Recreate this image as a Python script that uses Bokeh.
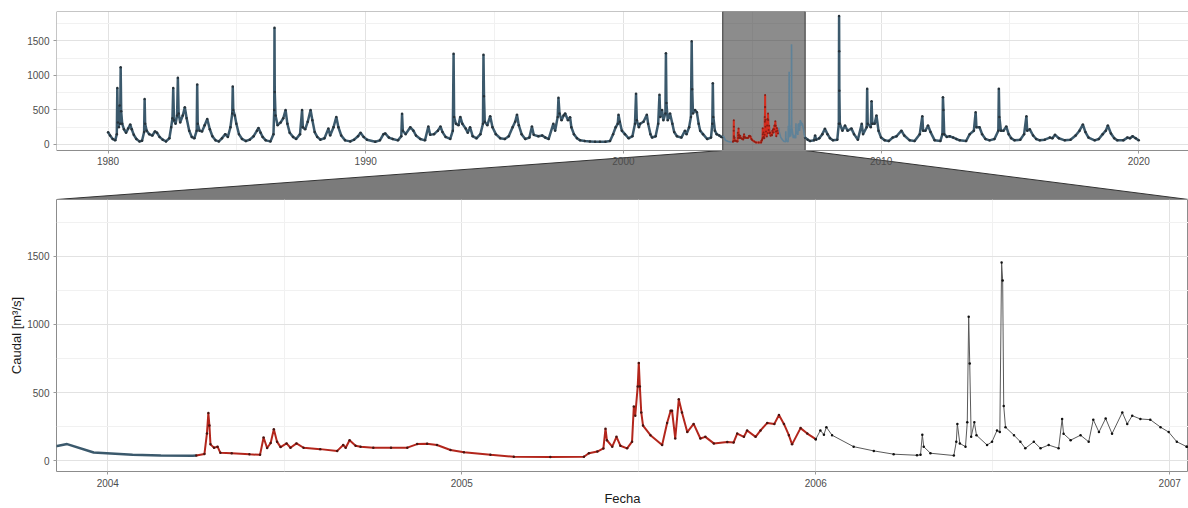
from bokeh.plotting import figure
from bokeh.models import Range1d, FixedTicker, ColumnDataSource
from bokeh.layouts import column
from bokeh.embed import file_html
from bokeh.resources import INLINE

# ---------------- data: (fecha [decimal year], caudal [m3/s]) ----------------
serie_1980s = [
    (1980.00, 178), (1980.08, 130), (1980.18, 80), (1980.28, 60), (1980.34, 150), (1980.36, 820),
    (1980.38, 320), (1980.42, 250), (1980.45, 565), (1980.47, 300), (1980.49, 1120), (1980.51, 480),
    (1980.55, 300), (1980.62, 220), (1980.70, 170), (1980.78, 230), (1980.86, 290), (1980.92, 220),
    (1981.00, 140), (1981.10, 80), (1981.22, 45), (1981.32, 55), (1981.40, 180), (1981.42, 660),
    (1981.44, 300), (1981.50, 200), (1981.60, 150), (1981.72, 130), (1981.82, 190), (1981.90, 170),
    (1982.00, 110), (1982.12, 70), (1982.25, 45), (1982.38, 90), (1982.45, 250), (1982.50, 380),
    (1982.53, 817), (1982.56, 350), (1982.62, 300), (1982.68, 420), (1982.71, 966), (1982.74, 450),
    (1982.80, 320), (1982.90, 420), (1982.98, 540), (1983.05, 380), (1983.15, 200), (1983.25, 110),
    (1983.35, 90), (1983.44, 200), (1983.46, 870), (1983.48, 300), (1983.55, 200), (1983.65, 190),
    (1983.75, 280), (1983.85, 370), (1983.95, 220), (1984.05, 120), (1984.17, 60), (1984.30, 45),
    (1984.42, 90), (1984.55, 150), (1984.65, 110), (1984.75, 250), (1984.82, 450), (1984.84, 840),
    (1984.86, 500), (1984.92, 420), (1984.98, 300), (1985.08, 150), (1985.20, 80), (1985.35, 50),
    (1985.50, 70), (1985.65, 120), (1985.78, 200), (1985.84, 240), (1985.92, 170), (1986.00, 110),
    (1986.12, 60), (1986.30, 45), (1986.42, 150), (1986.45, 500), (1986.46, 1690), (1986.47, 760),
    (1986.50, 420), (1986.58, 280), (1986.70, 320), (1986.80, 380), (1986.89, 500), (1986.96, 300),
    (1987.05, 170), (1987.18, 110), (1987.30, 80), (1987.45, 150), (1987.53, 500), (1987.56, 250),
    (1987.65, 220), (1987.75, 330), (1987.86, 500), (1987.93, 350), (1988.02, 180), (1988.12, 110),
    (1988.24, 70), (1988.40, 90), (1988.55, 230), (1988.62, 130), (1988.75, 250), (1988.86, 400),
    (1988.94, 250), (1989.05, 130), (1989.20, 60), (1989.40, 45), (1989.55, 70), (1989.70, 120),
    (1989.80, 170), (1989.92, 110),
]
serie_1990s = [
    (1990.05, 70), (1990.37, 40), (1990.55, 60), (1990.69, 150), (1990.76, 160), (1990.90, 100),
    (1991.05, 80), (1991.25, 60), (1991.38, 120), (1991.41, 445), (1991.44, 200), (1991.55, 150),
    (1991.73, 250), (1991.85, 200), (1991.95, 130), (1992.12, 80), (1992.30, 60), (1992.43, 260),
    (1992.50, 140), (1992.65, 150), (1992.80, 200), (1992.90, 260), (1992.98, 180), (1993.10, 110),
    (1993.28, 80), (1993.38, 200), (1993.41, 1314), (1993.43, 400), (1993.50, 300), (1993.60, 280),
    (1993.67, 400), (1993.75, 300), (1993.88, 230), (1993.96, 170), (1994.05, 250), (1994.15, 120),
    (1994.30, 90), (1994.45, 150), (1994.55, 300), (1994.57, 1300), (1994.59, 700), (1994.62, 330),
    (1994.72, 280), (1994.83, 410), (1994.92, 250), (1995.05, 150), (1995.22, 90), (1995.40, 80),
    (1995.55, 120), (1995.70, 250), (1995.80, 330), (1995.87, 430), (1995.94, 280), (1996.05, 150),
    (1996.19, 80), (1996.35, 100), (1996.45, 260), (1996.52, 140), (1996.70, 120), (1996.85, 130),
    (1996.97, 100), (1997.10, 80), (1997.28, 300), (1997.35, 200), (1997.45, 400), (1997.48, 677),
    (1997.52, 450), (1997.60, 350), (1997.68, 420), (1997.74, 450), (1997.85, 350), (1997.93, 396),
    (1997.98, 250), (1998.08, 150), (1998.20, 90), (1998.32, 60), (1998.50, 50), (1998.70, 45),
    (1998.90, 40), (1999.09, 40), (1999.30, 40), (1999.48, 50), (1999.60, 150), (1999.70, 250),
    (1999.78, 300), (1999.81, 430), (1999.86, 330), (1999.94, 200),
]
serie_2000_2003 = [
    (2000.06, 150), (2000.20, 90), (2000.35, 120), (2000.45, 300), (2000.49, 735), (2000.52, 350),
    (2000.60, 250), (2000.65, 300), (2000.78, 330), (2000.91, 430), (2000.96, 300), (2001.05, 150),
    (2001.11, 100), (2001.25, 120), (2001.35, 300), (2001.40, 720), (2001.43, 400), (2001.50, 500),
    (2001.55, 350), (2001.63, 450), (2001.65, 1323), (2001.67, 600), (2001.72, 350), (2001.81, 450),
    (2001.90, 300), (2001.97, 180), (2002.08, 120), (2002.25, 100), (2002.39, 200), (2002.45, 150),
    (2002.55, 250), (2002.62, 400), (2002.65, 1497), (2002.67, 800), (2002.70, 450), (2002.78, 500),
    (2002.85, 468), (2002.92, 300), (2002.98, 200), (2003.09, 150), (2003.25, 80), (2003.40, 100),
    (2003.45, 300), (2003.47, 888), (2003.49, 400), (2003.55, 200), (2003.62, 150), (2003.72, 130),
    (2003.80, 110), (2003.857, 108),
]
tramo_azul = [
    (2003.857, 108), (2003.885, 122), (2003.96, 60), (2004.07, 43), (2004.15, 38), (2004.24, 36),
    (2004.25, 38),
]
tramo_rojo = [
    (2004.25, 38), (2004.273, 50), (2004.28, 200), (2004.284, 350), (2004.287, 258), (2004.29, 120),
    (2004.30, 95), (2004.31, 103), (2004.318, 58), (2004.35, 55), (2004.40, 47), (2004.43, 43),
    (2004.44, 170), (2004.45, 93), (2004.46, 130), (2004.469, 230), (2004.478, 140), (2004.488, 100),
    (2004.505, 127), (2004.516, 95), (2004.533, 127), (2004.553, 95), (2004.60, 85), (2004.648, 72),
    (2004.665, 115), (2004.672, 95), (2004.683, 150), (2004.70, 110), (2004.714, 103), (2004.75, 96),
    (2004.80, 95), (2004.846, 96), (2004.874, 122), (2004.902, 125), (2004.93, 115), (2004.968, 79),
    (2005.006, 62), (2005.081, 43), (2005.147, 29), (2005.25, 28), (2005.345, 29), (2005.359, 55),
    (2005.383, 67), (2005.40, 90), (2005.406, 235), (2005.41, 150), (2005.425, 103), (2005.437, 175),
    (2005.448, 110), (2005.467, 91), (2005.481, 140), (2005.486, 397), (2005.49, 330), (2005.497, 545),
    (2005.50, 717), (2005.503, 545), (2005.507, 354), (2005.512, 258), (2005.533, 187), (2005.566, 115),
    (2005.58, 277), (2005.59, 366), (2005.594, 366), (2005.603, 163), (2005.613, 450), (2005.622, 354),
    (2005.637, 210), (2005.655, 270), (2005.674, 163), (2005.688, 175), (2005.712, 127), (2005.75, 138),
    (2005.768, 134), (2005.778, 199), (2005.797, 175), (2005.806, 222), (2005.83, 175), (2005.844, 222),
    (2005.863, 277), (2005.883, 270), (2005.896, 335), (2005.91, 270), (2005.924, 187), (2005.933, 120),
    (2005.957, 239), (2005.976, 199), (2006.0, 158),
]
tramo_gris = [
    (2006.0, 158), (2006.013, 222), (2006.023, 191), (2006.03, 246), (2006.046, 187), (2006.107, 103),
    (2006.164, 72), (2006.22, 48), (2006.286, 40), (2006.296, 43), (2006.301, 191), (2006.305, 103),
    (2006.324, 55), (2006.39, 38), (2006.397, 139), (2006.40, 270), (2006.407, 127), (2006.423, 103),
    (2006.428, 282), (2006.432, 1055), (2006.435, 712), (2006.439, 175), (2006.448, 282), (2006.454, 187),
    (2006.484, 115), (2006.498, 139), (2006.512, 222), (2006.52, 210), (2006.525, 1454), (2006.528, 1322),
    (2006.531, 402), (2006.536, 246), (2006.56, 187), (2006.578, 139), (2006.592, 91), (2006.616, 139),
    (2006.635, 91), (2006.658, 115), (2006.686, 91), (2006.696, 306), (2006.70, 198), (2006.72, 151),
    (2006.748, 187), (2006.771, 139), (2006.784, 301), (2006.80, 210), (2006.819, 310), (2006.837, 198),
    (2006.866, 354), (2006.88, 270), (2006.894, 330), (2006.917, 306), (2006.945, 301), (2006.974, 246),
    (2006.997, 210), (2007.02, 139), (2007.048, 103),
]
serie_2007_2020 = [
    (2007.048, 103), (2007.15, 70), (2007.24, 50), (2007.40, 60), (2007.44, 130), (2007.48, 70),
    (2007.60, 90), (2007.72, 150), (2007.82, 228), (2007.92, 150), (2008.02, 90), (2008.13, 60),
    (2008.30, 70), (2008.36, 300), (2008.37, 1860), (2008.375, 1350), (2008.38, 780), (2008.40, 300),
    (2008.50, 200), (2008.60, 275), (2008.70, 200), (2008.85, 230), (2008.95, 150), (2009.10, 70),
    (2009.25, 300), (2009.30, 150), (2009.44, 250), (2009.46, 807), (2009.48, 300), (2009.60, 250),
    (2009.63, 628), (2009.66, 300), (2009.75, 300), (2009.82, 420), (2009.90, 200), (2010.00, 100),
    (2010.14, 60), (2010.30, 50), (2010.45, 100), (2010.60, 120), (2010.79, 200), (2010.90, 130),
    (2011.11, 60), (2011.30, 50), (2011.50, 150), (2011.60, 410), (2011.63, 200), (2011.72, 200),
    (2011.82, 275), (2011.92, 180), (2012.08, 60), (2012.30, 50), (2012.38, 150), (2012.40, 686),
    (2012.42, 500), (2012.45, 150), (2012.55, 110), (2012.66, 120), (2012.80, 100), (2012.92, 80),
    (2013.05, 60), (2013.30, 50), (2013.44, 150), (2013.60, 200), (2013.67, 468), (2013.70, 250),
    (2013.82, 250), (2013.92, 150), (2014.05, 80), (2014.21, 60), (2014.40, 80), (2014.55, 200),
    (2014.57, 807), (2014.59, 400), (2014.65, 200), (2014.75, 200), (2014.86, 260), (2014.95, 150),
    (2015.05, 90), (2015.18, 60), (2015.40, 70), (2015.55, 150), (2015.64, 410), (2015.67, 200),
    (2015.77, 220), (2015.90, 130), (2016.02, 80), (2016.16, 60), (2016.35, 70), (2016.55, 100),
    (2016.65, 90), (2016.75, 140), (2016.90, 90), (2017.13, 60), (2017.35, 70), (2017.55, 130),
    (2017.70, 200), (2017.83, 290), (2017.93, 180), (2018.05, 100), (2018.29, 60), (2018.45, 80),
    (2018.60, 150), (2018.72, 200), (2018.80, 275), (2018.92, 160), (2019.05, 90), (2019.17, 60),
    (2019.40, 60), (2019.56, 100), (2019.66, 90), (2019.76, 120), (2019.88, 90), (2020.00, 60),
]

# zoom window (dates) and tick labels
zoom_inicio, zoom_fin = 2003.855, 2007.053
ticks_top_x = [1980, 1990, 2000, 2010, 2020]
minor_top_x = [1985, 1995, 2005, 2015]
ticks_bot_x = [2004, 2005, 2006, 2007]
minor_bot_x = [2004.5, 2005.5, 2006.5]
ticks_y = [0, 500, 1000, 1500]
minor_y = [250, 750, 1250, 1750]


def src(*parts):
    pts = [p for part in parts for p in part]
    return ColumnDataSource(dict(fecha=[p[0] for p in pts], caudal=[p[1] for p in pts]))


FONT = "Liberation Sans"
BLUE = "#3b596c"
BLUE_IN_BOX = "#5f8298"
RED = "#d42d1e"
BORDER = "#8c8c8c"
TICK_TXT = "#4d4d4d"

# panel ranges
TOP_X = (1978.0, 2021.93)
TOP_Y_PANEL = (-87, 1927)
TOP_Y_FULL = (-797, 1927)


def style_axes(p):
    for ax in list(p.xaxis) + list(p.yaxis):
        ax.axis_line_color = None
        ax.major_tick_line_color = "#9a9a9a"
        ax.major_tick_out = 3
        ax.major_tick_in = 0
        ax.minor_tick_line_color = None
        ax.major_label_text_font = FONT
        ax.major_label_text_font_size = "10px"
        ax.major_label_text_color = TICK_TXT
        ax.major_label_standoff = 3
        ax.axis_label_text_font = FONT
        ax.axis_label_text_font_style = "normal"
        ax.axis_label_text_font_size = "13px"
        ax.axis_label_text_color = "#1a1a1a"


def style_grid(p):
    for g in list(p.xgrid) + list(p.ygrid):
        g.grid_line_color = "#e2e2e2"
        g.grid_line_width = 1
        g.minor_grid_line_color = "#f1f1f1"
        g.minor_grid_line_width = 1


# ---------------- top (overview) panel ----------------
pa = figure(width=1188, height=199, x_range=Range1d(*TOP_X), y_range=Range1d(*TOP_Y_FULL),
            output_backend="svg", toolbar_location=None,
            min_border_left=56, min_border_right=0, min_border_top=11, min_border_bottom=0)
pa.outline_line_color = None
pa.background_fill_color = "white"
pa.xaxis.fixed_location = TOP_Y_PANEL[0]
pa.xaxis.ticker = FixedTicker(ticks=ticks_top_x, minor_ticks=minor_top_x)
pa.yaxis.ticker = FixedTicker(ticks=ticks_y, minor_ticks=minor_y)
pa.xgrid.ticker = FixedTicker(ticks=ticks_top_x, minor_ticks=minor_top_x)
pa.ygrid.ticker = FixedTicker(ticks=ticks_y, minor_ticks=minor_y)
style_axes(pa)
style_grid(pa)

# white area below the overview panel (hides grid lines there)
pa.quad(left=[TOP_X[0]], right=[TOP_X[1] + 1], bottom=[TOP_Y_FULL[0] - 10], top=[TOP_Y_PANEL[0]],
        fill_color="white", line_color=None)
# highlighted window
pa.quad(left=[zoom_inicio], right=[zoom_fin], bottom=[TOP_Y_PANEL[0]], top=[TOP_Y_PANEL[1] + 5],
        fill_color="#2e2e2e", fill_alpha=0.55, line_color="#333333", line_width=1)
# connecting trapezoid
pa.patch(x=[TOP_X[0], zoom_inicio, zoom_fin, TOP_X[1]],
         y=[TOP_Y_FULL[0], TOP_Y_PANEL[0], TOP_Y_PANEL[0], TOP_Y_FULL[0]],
         fill_color="#2e2e2e", fill_alpha=0.63, line_color="#333333", line_width=1)

sa_pre = src(serie_1980s, serie_1990s, serie_2000_2003)
sa_azul = src(tramo_azul)
sa_rojo = src(tramo_rojo)
sa_gris = src(tramo_gris)
sa_post = src(serie_2007_2020)
for s in (sa_pre, sa_post):
    pa.line("fecha", "caudal", source=s, line_color=BLUE, line_width=2.5)
    pa.scatter("fecha", "caudal", source=s, size=2.5, fill_color="#26323a", line_color=None)
for s in (sa_azul, sa_gris):
    pa.line("fecha", "caudal", source=s, line_color=BLUE_IN_BOX, line_width=1.6)
pa.line("fecha", "caudal", source=sa_rojo, line_color=RED, line_width=2)
pa.scatter("fecha", "caudal", source=sa_rojo, size=2, fill_color="#8a1e14", line_color=None)
# panel border
pa.quad(left=[TOP_X[0]], right=[TOP_X[1]], bottom=[TOP_Y_PANEL[0]], top=[TOP_Y_PANEL[1]],
        fill_color=None, line_color=BORDER, line_width=1)

# ---------------- bottom (zoom) panel ----------------
pb = figure(width=1188, height=309, x_range=Range1d(zoom_inicio, zoom_fin), y_range=Range1d(-79, 1915),
            output_backend="svg", toolbar_location=None,
            min_border_left=56, min_border_right=0, min_border_top=0, min_border_bottom=31)
pb.outline_line_color = BORDER
pb.xaxis.ticker = FixedTicker(ticks=ticks_bot_x, minor_ticks=minor_bot_x)
pb.yaxis.ticker = FixedTicker(ticks=ticks_y, minor_ticks=minor_y)
pb.xgrid.ticker = FixedTicker(ticks=ticks_bot_x, minor_ticks=minor_bot_x)
pb.ygrid.ticker = FixedTicker(ticks=ticks_y, minor_ticks=minor_y)
pb.xaxis.axis_label = "Fecha"
pb.yaxis.axis_label = "Caudal [m³/s]"
style_axes(pb)
style_grid(pb)
pb.xaxis.axis_label_standoff = 1
pb.yaxis.axis_label_standoff = 0

sb1 = src(serie_2000_2003, tramo_azul)
sb2 = src(tramo_rojo)
sb3 = src(tramo_gris, serie_2007_2020)
pb.line("fecha", "caudal", source=sb1, line_color=BLUE, line_width=2.5)
pb.line("fecha", "caudal", source=sb2, line_color="#b3261c", line_width=2)
pb.scatter("fecha", "caudal", source=sb2, size=2.5, fill_color="#4a1410", line_color=None)
pb.line("fecha", "caudal", source=sb3, line_color="#5a5a5a", line_width=1)
pb.scatter("fecha", "caudal", source=sb3, size=2.5, fill_color="#111111", line_color=None)

layout = column(pa, pb, spacing=0)
open("out.html", "w").write(file_html(layout, INLINE))
